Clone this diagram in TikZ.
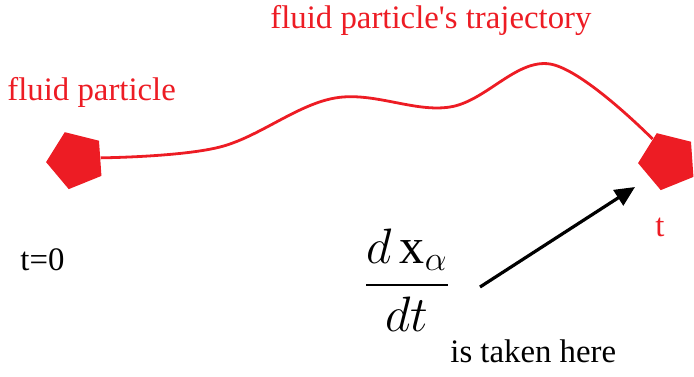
\documentclass[tikz,border=0pt]{standalone}
\usepackage{amsmath}
\usepackage{fontspec}
\setmainfont{Liberation Serif}
\usetikzlibrary{shapes.geometric, arrows.meta, positioning, calc}
\definecolor{particlered}{HTML}{ED1C24}

\begin{document}
\begin{tikzpicture}[x=0.5pt, y=-0.5pt,
    particle/.style={regular polygon, regular polygon sides=5, shape border rotate=22,
        fill=particlered, draw=none, minimum size=30pt, inner sep=0pt},
    caption/.style={font=\fontsize{16.4}{19}\selectfont, inner sep=0pt}]
    \useasboundingbox (0,0) rectangle (694,376);

    % The particle at the start and at time t
    \node[particle] (start) at (76,160) {};
    \node[particle] (later) at (668,161) {};

    % Trajectory
    \draw[particlered, line width=1.4pt] plot[smooth, tension=0.6] coordinates {
        (start.5) (220,147) (335,98) (450,107) (550,64) (later.125)};

    % Labels
    \node[caption, particlered, anchor=base west] (trajlabel) at (270,28) {fluid particle\textquotesingle s trajectory};
    \node[caption, particlered, anchor=base west] (startlabel) at (7,100) {fluid particle};
    \node[caption, anchor=base west] (tzero) at (20,270) {t=0};
    \node[caption, particlered, anchor=base west] (tlabel) at (655,236) {t};

    % Derivative and where it is taken
    \node[font=\fontsize{25}{30}\selectfont, anchor=base, inner sep=0pt] (deriv) at (407,297)
        {$\displaystyle\frac{d\,\mathrm{x}_\alpha}{dt}$};
    \coordinate (tail) at (480,287);
    \coordinate (head) at (635,187);
    \draw[line width=1.6pt, -{Triangle[length=10pt, width=9pt]}] (tail) -- (head);
    \node[caption, anchor=base west] (here) at (450,362) {is taken here};

\end{tikzpicture}
\end{document}
